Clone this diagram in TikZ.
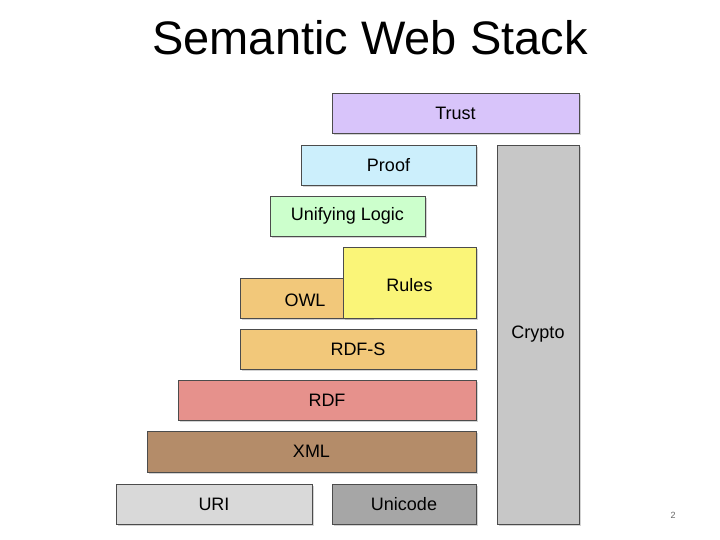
\documentclass[tikz,border=0pt]{standalone}
\usepackage{fontspec}
\setmainfont{Liberation Sans}
\usetikzlibrary{shadows}
\begin{document}
\begin{tikzpicture}[x=1pt,y=-1pt,
  box/.style={draw=black!70,line width=0.8pt,inner sep=0pt,font=\fontsize{18}{21}\selectfont,
    drop shadow={shadow xshift=1.5pt,shadow yshift=-2pt,opacity=0.35}},
  lbl/.style={font=\fontsize{18}{21}\selectfont,inner sep=0pt},
]
\useasboundingbox (0,0) rectangle (720,540);
\node[font=\fontsize{47}{52}\selectfont] (title) at (370,38) {Semantic Web Stack};
\newcommand{\bx}[7]{\node[box,fill=#6,minimum width={#3-#2},minimum height={#5-#4}] (#1) at ({(#2+#3)/2},{(#4+#5)/2}) {#7};}
\bx{trust}{332}{579}{93}{133}{{rgb,255:red,216;green,196;blue,250}}{Trust}
\bx{proof}{301}{476}{145}{185}{cyan!20!white}{Proof}
\bx{logic}{270}{425}{196}{236}{green!20!white}{Unifying Logic}
\bx{crypto}{497}{579}{145}{524}{black!22}{Crypto}
\node[box,fill={rgb,255:red,242;green,200;blue,122},minimum width=132,minimum height=40] (owl) at (306,298) {};
\node[lbl] (owltext) at (305,300) {OWL};
\node[box,fill={rgb,255:red,250;green,245;blue,120},minimum width=133,minimum height=71] (rules) at (409.5,282.5) {};
\node[lbl] (rulestext) at (409.5,285) {Rules};
\bx{rdfs}{240}{476}{329}{369}{{rgb,255:red,242;green,200;blue,122}}{RDF-S}
\bx{rdf}{178}{476}{380}{420}{{rgb,255:red,230;green,145;blue,140}}{RDF}
\bx{xml}{147}{476}{431}{472}{{rgb,255:red,180;green,140;blue,105}}{XML}
\bx{uri}{116}{312}{484}{524}{black!15}{URI}
\bx{unicode}{332}{476}{484}{524}{black!35}{Unicode}
\node[font=\fontsize{9}{10}\selectfont,text=black!60] (page) at (673,515) {2};
\end{tikzpicture}
\end{document}
